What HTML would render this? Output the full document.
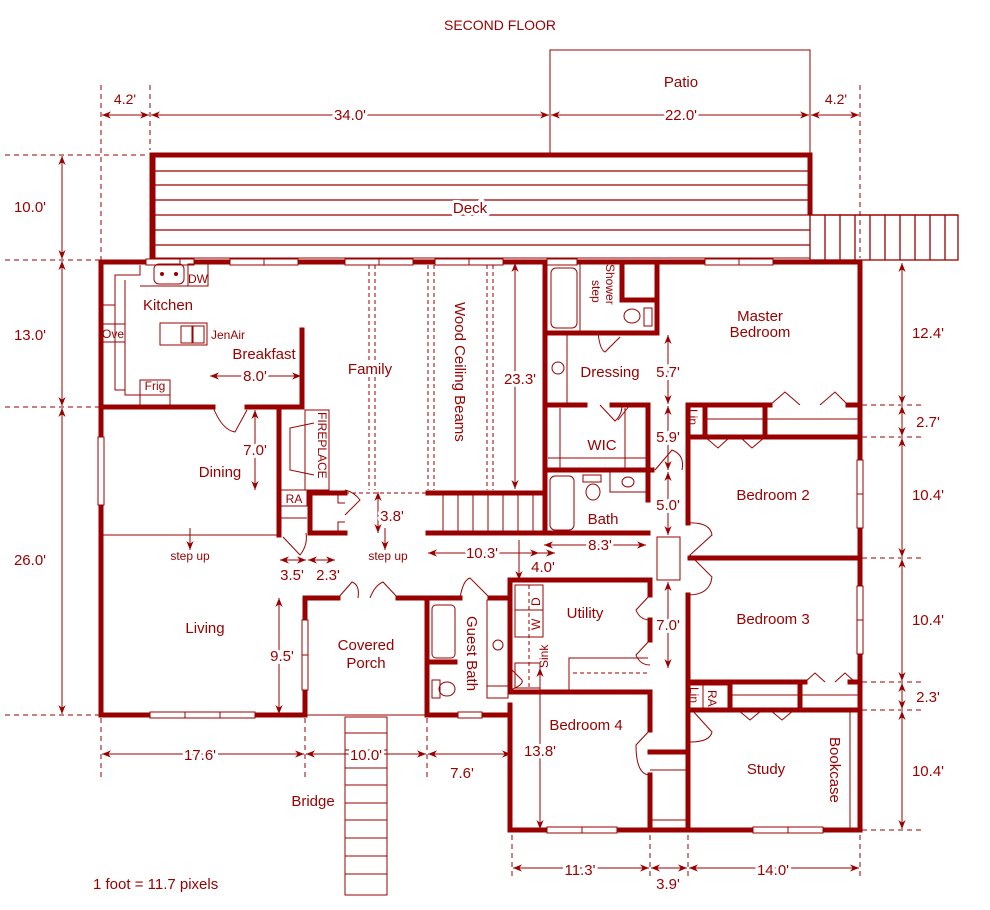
<!DOCTYPE html>
<html><head><meta charset="utf-8"><style>
html,body{margin:0;padding:0;background:#fff;}
svg{display:block;}
text{font-family:"Liberation Sans",sans-serif;fill:#990000;}
.h text{paint-order:stroke;stroke:#fff;stroke-width:6px;stroke-linejoin:round;}
</style></head><body>
<svg width="990" height="910" viewBox="0 0 990 910" xmlns="http://www.w3.org/2000/svg">
<defs>
<marker id="a" viewBox="0 0 10 10" refX="10" refY="5" markerWidth="9" markerHeight="9" orient="auto-start-reverse"><path d="M0,1 L10,5 L0,9 L3,5 Z" fill="#990000"/></marker>
</defs>
<g stroke="#990000" fill="none">
<polyline points="550,153 550,50 810,50 810,153" stroke-width="1"/>
<g stroke-width="1" stroke-dasharray="5,4">
<line x1="101" y1="85" x2="101" y2="260"/><line x1="150" y1="85" x2="150" y2="150"/>
<line x1="860" y1="85" x2="860" y2="258"/>
<line x1="5" y1="155" x2="148" y2="155"/><line x1="5" y1="260" x2="100" y2="260"/>
<line x1="5" y1="407" x2="100" y2="407"/><line x1="5" y1="715" x2="100" y2="715"/>
<line x1="101" y1="718" x2="101" y2="780"/><line x1="305" y1="718" x2="305" y2="780"/><line x1="427" y1="718" x2="427" y2="780"/>
<line x1="512" y1="835" x2="512" y2="880"/><line x1="650" y1="835" x2="650" y2="880"/><line x1="688" y1="835" x2="688" y2="880"/><line x1="860" y1="835" x2="860" y2="880"/>
<line x1="862" y1="405" x2="925" y2="405"/><line x1="862" y1="437" x2="925" y2="437"/><line x1="862" y1="558" x2="925" y2="558"/>
<line x1="862" y1="682" x2="925" y2="682"/><line x1="862" y1="710" x2="925" y2="710"/><line x1="862" y1="830" x2="925" y2="830"/>
</g>
<g stroke-width="1" marker-start="url(#a)" marker-end="url(#a)">
<line x1="102" y1="115" x2="149" y2="115"/><line x1="151" y1="115" x2="549" y2="115"/><line x1="551" y1="115" x2="809" y2="115"/><line x1="811" y1="115" x2="859" y2="115"/>
<line x1="62" y1="156" x2="62" y2="259"/><line x1="62" y1="261" x2="62" y2="406"/><line x1="62" y1="408" x2="62" y2="714"/>
<line x1="102" y1="754" x2="304" y2="754"/><line x1="306" y1="754" x2="426" y2="754"/><line x1="428" y1="754" x2="511" y2="754"/>
<line x1="513" y1="868" x2="649" y2="868"/><line x1="651" y1="868" x2="687" y2="868"/><line x1="689" y1="868" x2="859" y2="868"/>
<line x1="902" y1="263" x2="902" y2="404"/><line x1="902" y1="406" x2="902" y2="436"/><line x1="902" y1="438" x2="902" y2="557"/><line x1="902" y1="559" x2="902" y2="681"/><line x1="902" y1="683" x2="902" y2="709"/><line x1="902" y1="711" x2="902" y2="829"/>
<line x1="210" y1="376" x2="301" y2="376"/><line x1="255" y1="410" x2="255" y2="490"/>
<line x1="515" y1="263" x2="515" y2="489"/><line x1="378" y1="492" x2="378" y2="533"/>
<line x1="428" y1="553" x2="539" y2="553"/><line x1="544" y1="545" x2="646" y2="545"/>
<line x1="280" y1="560" x2="306" y2="560"/><line x1="308" y1="560" x2="335" y2="560"/>
<line x1="279" y1="598" x2="279" y2="714"/><line x1="540" y1="668" x2="540" y2="829"/>
<line x1="668" y1="335" x2="668" y2="404"/><line x1="668" y1="406" x2="668" y2="470"/><line x1="668" y1="472" x2="668" y2="535"/><line x1="668" y1="582" x2="668" y2="668"/>
</g>
<g stroke-width="1" marker-end="url(#a)">
<line x1="530" y1="553" x2="555" y2="553"/><line x1="519" y1="540" x2="519" y2="580"/>
<line x1="190" y1="528" x2="190" y2="550"/><line x1="385" y1="528" x2="385" y2="550"/>
</g>
<rect x="150" y="153" width="660" height="105" stroke-width="1"/>
<polyline points="153,258 153,155 810,155 810,215" stroke-width="5"/>
<g stroke-width="1.3"><line x1="153" y1="171" x2="810" y2="171"/><line x1="153" y1="185" x2="810" y2="185"/><line x1="153" y1="200" x2="810" y2="200"/><line x1="153" y1="215" x2="958" y2="215"/><line x1="153" y1="230" x2="810" y2="230"/><line x1="153" y1="245" x2="810" y2="245"/>
<rect x="810" y="215" width="148" height="45"/>
<path d="M825,215V260M840,215V260M855,215V260M870,215V260M885,215V260M900,215V260M915,215V260M930,215V260M945,215V260"/></g>
<g stroke-width="5" stroke-linecap="square">
<line x1="101" y1="262" x2="860" y2="262"/>
<line x1="101" y1="262" x2="101" y2="715"/>
<line x1="860" y1="262" x2="860" y2="830"/>
<line x1="101" y1="715" x2="305" y2="715"/>
<line x1="101" y1="407" x2="213" y2="407"/><line x1="247" y1="407" x2="302" y2="407"/><line x1="302" y1="330" x2="302" y2="407"/>
<line x1="279" y1="410" x2="279" y2="535"/>
<line x1="310" y1="493" x2="345" y2="493"/><line x1="310" y1="493" x2="310" y2="533"/><line x1="310" y1="533" x2="345" y2="533"/>
<line x1="428" y1="493" x2="545" y2="493"/><line x1="428" y1="533" x2="545" y2="533"/>
<line x1="545" y1="262" x2="545" y2="533"/>
<line x1="545" y1="333" x2="657" y2="333"/><line x1="657" y1="262" x2="657" y2="333"/><line x1="622" y1="262" x2="622" y2="300"/><line x1="622" y1="300" x2="657" y2="300"/>
<line x1="545" y1="405" x2="585" y2="405"/><line x1="612" y1="405" x2="648" y2="405"/><line x1="648" y1="405" x2="648" y2="470"/>
<line x1="545" y1="470" x2="652" y2="470"/><line x1="648" y1="470" x2="648" y2="500"/><line x1="545" y1="533" x2="648" y2="533"/>
<line x1="688" y1="405" x2="770" y2="405"/><line x1="848" y1="405" x2="860" y2="405"/><line x1="688" y1="405" x2="688" y2="470"/>
<line x1="690" y1="437" x2="860" y2="437"/><line x1="705" y1="405" x2="705" y2="437"/><line x1="765" y1="405" x2="765" y2="437"/>
<line x1="688" y1="470" x2="688" y2="523"/><line x1="688" y1="595" x2="688" y2="830"/>
<line x1="690" y1="558" x2="860" y2="558"/>
<line x1="688" y1="682" x2="805" y2="682"/><line x1="850" y1="682" x2="860" y2="682"/><line x1="800" y1="682" x2="800" y2="710"/><line x1="730" y1="682" x2="730" y2="710"/>
<line x1="688" y1="710" x2="860" y2="710"/>
<line x1="305" y1="598" x2="305" y2="715"/><line x1="305" y1="598" x2="338" y2="598"/><line x1="398" y1="598" x2="460" y2="598"/><line x1="490" y1="598" x2="510" y2="598"/>
<line x1="427" y1="598" x2="427" y2="715"/><line x1="427" y1="715" x2="510" y2="715"/><line x1="427" y1="662" x2="455" y2="662"/>
<line x1="510" y1="580" x2="510" y2="690"/><line x1="510" y1="705" x2="510" y2="830"/><line x1="510" y1="580" x2="650" y2="580"/>
<line x1="650" y1="580" x2="650" y2="595"/><line x1="650" y1="620" x2="650" y2="640"/>
<line x1="510" y1="692" x2="650" y2="692"/><line x1="650" y1="692" x2="650" y2="730"/><line x1="650" y1="775" x2="650" y2="830"/>
<line x1="650" y1="752" x2="688" y2="752"/>
<line x1="510" y1="830" x2="860" y2="830"/>
</g>
<g fill="#fff" stroke-width="1">
<rect x="146" y="259" width="48" height="6"/><rect x="230" y="259" width="68" height="6"/><rect x="345" y="259" width="68" height="6"/><rect x="435" y="259" width="68" height="6"/><rect x="547" y="259" width="30" height="6"/><rect x="705" y="259" width="68" height="6"/>
<rect x="98" y="437" width="6" height="68"/><rect x="150" y="712" width="105" height="6"/><rect x="302" y="620" width="6" height="70"/><rect x="458" y="712" width="24" height="6"/>
<rect x="857" y="460" width="6" height="68"/><rect x="857" y="586" width="6" height="68"/><rect x="547" y="827" width="70" height="6"/><rect x="753" y="827" width="70" height="6"/>
</g>
<g stroke-width="1">
<path d="M180,259v6M264,259v6M379,259v6M469,259v6M739,259v6M185,712v6M220,712v6M302,655h6M857,494h6M857,620h6M582,827v6M788,827v6"/>
<polyline points="101,305 115,305 115,275 140,275 140,265"/><polyline points="125,280 125,395 140,395 140,405"/><polyline points="115,305 115,390 125,390"/>
<polyline points="140,395 170,395 170,405 210,405"/><rect x="140" y="380" width="30" height="25"/>
<rect x="154" y="264" width="30" height="20" rx="5"/><circle cx="162" cy="274" r="1.5" fill="#990000"/><circle cx="176" cy="274" r="1.5" fill="#990000"/>
<rect x="188" y="264" width="20" height="22"/><line x1="140" y1="286" x2="208" y2="286"/>
<rect x="101" y="324" width="24" height="18"/>
<rect x="160" y="323" width="47" height="22"/><rect x="181" y="326" width="11" height="17"/><rect x="193" y="326" width="11" height="17"/>
<g stroke-dasharray="4,3"><path d="M369,265v225M375,265v225M428,265v225M434,265v225M487,265v225M493,265v225M345,493h83"/></g>
<rect x="305" y="410" width="24" height="80"/><polyline points="314,423 290,428 290,470 314,475"/>
<rect x="281" y="490" width="26" height="16"/><line x1="281" y1="518" x2="307" y2="518"/>
<path d="M338,495 L338,503 L345,503"/><path d="M345,522 L338,522 L338,533"/>
<path d="M443,493v40M458,493v40M473,493v40M488,493v40M503,493v40M518,493v40M533,493v40"/>
<line x1="101" y1="535" x2="279" y2="535"/>
<path d="M213,407 Q222,430 235,432 L247,410"/>
<path d="M283,537 L300,555 Q308,545 306,533"/>
<path d="M345,515 L360,500 Q354,492 345,490"/>
<path d="M338,598 L352,582 Q360,585 358,598 M398,598 L383,582 Q375,585 370,598"/>
<path d="M460,598 Q463,580 470,578 L490,598"/>
<path d="M510,690 Q524,685 522,680 L510,668"/>
<path d="M650,595 L636,610 Q640,620 650,620"/>
<path d="M650,640 L636,655 Q640,665 650,665"/>
<path d="M650,730 L636,745 Q636,775 650,775"/>
<path d="M688,523 Q710,522 712,535 L690,555 L712,577 Q710,595 688,595"/>
<path d="M692,710 L712,732 Q710,742 690,742"/>
<path d="M655,470 L672,450 Q685,455 682,470"/>
<path d="M600,405 L615,421 Q622,415 622,405"/>
<path d="M598,333 Q600,350 605,352 L620,337"/>
<path d="M630,405 L618,420"/>
<path d="M770,405 L785,392 L800,405 M820,405 L835,392 L848,405"/>
<path d="M705,437 L718,448 L730,437 M740,437 L752,448 L765,437"/>
<path d="M805,682 L815,673 L825,682 M835,682 L845,673 L855,682"/>
<path d="M738,710 L750,720 L762,710 M770,710 L782,720 L794,710"/>
<rect x="657" y="537" width="23" height="43"/>
<rect x="551" y="268" width="26" height="60" rx="5"/><line x1="580" y1="262" x2="580" y2="333"/>
<ellipse cx="632" cy="316" rx="8" ry="7"/><rect x="644" y="308" width="8" height="18"/>
<line x1="567" y1="333" x2="567" y2="405"/><circle cx="558" cy="368" r="6"/>
<path d="M560,470v-62M625,470v-62M548,458h100"/>
<rect x="550" y="476" width="24" height="54" rx="5"/><ellipse cx="593" cy="492" rx="7" ry="8"/><rect x="583" y="475" width="18" height="7"/>
<rect x="610" y="472" width="36" height="20"/><ellipse cx="628" cy="482" rx="6" ry="5"/>
<line x1="705" y1="419" x2="860" y2="419"/>
<rect x="688" y="685" width="15" height="25"/><rect x="703" y="685" width="27" height="25"/><line x1="730" y1="695" x2="860" y2="695"/>
<line x1="850" y1="712" x2="850" y2="830"/>
<rect x="432" y="605" width="23" height="53" rx="4"/><rect x="432" y="680" width="8" height="18"/><ellipse cx="447" cy="689" rx="8" ry="7"/>
<rect x="487" y="600" width="21" height="98"/><ellipse cx="498" cy="645" rx="5" ry="5"/><line x1="487" y1="686" x2="508" y2="686"/>
<rect x="515" y="585" width="28" height="25"/><rect x="515" y="610" width="28" height="27"/><line x1="529" y1="585" x2="529" y2="690" stroke-dasharray="4,3"/>
<rect x="515" y="663" width="25" height="25"/>
<path d="M569,690 V658 H648"/><line x1="573" y1="673" x2="648" y2="673" stroke-dasharray="4,3"/>
<line x1="305" y1="715" x2="427" y2="715"/>
<rect x="345" y="717" width="42" height="178"/>
<path d="M345,733h42M345,750h42M345,768h42M345,785h42M345,803h42M345,820h42M345,838h42M345,856h42M345,874h42"/>
<line x1="650" y1="770" x2="688" y2="770"/><line x1="650" y1="820" x2="688" y2="820"/>
</g>
</g>
<g font-size="15" text-anchor="middle" class="h">
<text x="500" y="30" font-size="14">SECOND FLOOR</text>
<text x="681" y="87">Patio</text>
<text x="470" y="213">Deck</text>
<text x="125" y="104" font-size="14">4.2'</text><text x="350" y="120">34.0'</text><text x="681" y="120">22.0'</text><text x="836" y="104" font-size="14">4.2'</text>
<text x="30" y="212">10.0'</text><text x="30" y="340">13.0'</text><text x="30" y="565">26.0'</text>
<text x="168" y="310">Kitchen</text><text x="264" y="359">Breakfast</text><text x="255" y="381">8.0'</text>
<text x="370" y="374">Family</text><text x="220" y="477">Dining</text><text x="255" y="455">7.0'</text>
<text x="205" y="633">Living</text><text x="282" y="661">9.5'</text>
<text x="366" y="650">Covered</text><text x="366" y="668">Porch</text>
<text x="200" y="760">17.6'</text><text x="366" y="760">10.0'</text><text x="462" y="778">7.6'</text>
<text x="313" y="806">Bridge</text>
<text x="760" y="321">Master</text><text x="760" y="337">Bedroom</text>
<text x="610" y="377">Dressing</text><text x="668" y="377">5.7'</text>
<text x="602" y="450">WIC</text><text x="668" y="442">5.9'</text>
<text x="603" y="524">Bath</text><text x="668" y="510">5.0'</text>
<text x="773" y="500">Bedroom 2</text><text x="773" y="624">Bedroom 3</text>
<text x="585" y="618">Utility</text><text x="668" y="630">7.0'</text>
<text x="586" y="730">Bedroom 4</text><text x="540" y="756">13.8'</text>
<text x="766" y="774">Study</text>
<text x="520" y="384">23.3'</text><text x="392" y="521">3.8'</text><text x="482" y="558">10.3'</text><text x="600" y="550">8.3'</text><text x="543" y="572">4.0'</text>
<text x="292" y="580">3.5'</text><text x="328" y="580">2.3'</text>
<text x="580" y="875">11.3'</text><text x="668" y="889">3.9'</text><text x="773" y="875">14.0'</text>
<text x="928" y="338">12.4'</text><text x="928" y="427">2.7'</text><text x="928" y="500">10.4'</text><text x="928" y="625">10.4'</text><text x="928" y="702">2.3'</text><text x="928" y="776">10.4'</text>
<text x="93" y="889" text-anchor="start">1 foot = 11.7 pixels</text>
</g>
<g font-size="12" text-anchor="middle">
<text x="190" y="560">step up</text><text x="388" y="560">step up</text>
<text x="113" y="338">Ove</text><text x="155" y="390">Frig</text><text x="198" y="283">DW</text><text x="228" y="339">JenAir</text>
<text x="294" y="503">RA</text>
</g>
<g font-size="12">
<text transform="translate(318,412) rotate(90)">FIREPLACE</text>
<text transform="translate(689,409) rotate(90)">Lin</text>
<text transform="translate(690,687) rotate(90)">Lin</text>
<text transform="translate(708,690) rotate(90)">RA</text>
<text transform="translate(606,264) rotate(90)">Shower</text>
<text transform="translate(592,280) rotate(90)">step</text>
<text transform="translate(548,668) rotate(-90)">Sink</text>
<text transform="translate(540,630) rotate(-90)">W</text>
<text transform="translate(540,606) rotate(-90)">D</text>
</g>
<g font-size="15">
<text transform="translate(455,302) rotate(90)">Wood Ceiling Beams</text>
<text transform="translate(467,616) rotate(90)">Guest Bath</text>
<text transform="translate(830,737) rotate(90)">Bookcase</text>
</g>
</svg>
</body></html>
